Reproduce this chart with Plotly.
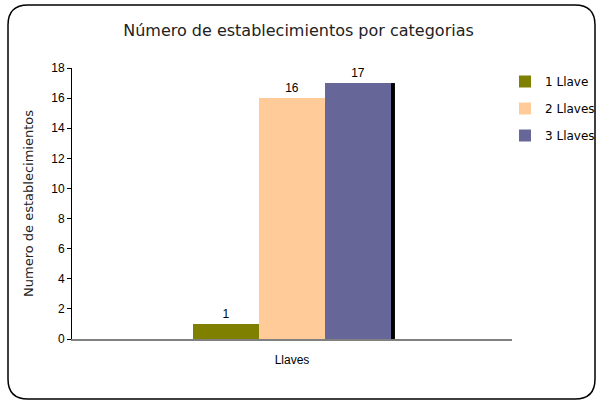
import plotly.graph_objects as go

# --------------------------
# Data
# --------------------------
categoria = ["Llaves"]
series = ["1 Llave", "2 Llaves", "3 Llaves"]
valores = [1, 16, 17]
colores = ["#808000", "#FFCC99", "#666699"]

# bar layout inside the single category (group of three, 55% gap)
ancho = 0.15
inicio = -1.5 * ancho

fig = go.Figure()
for i, (nombre, val, col) in enumerate(zip(series, valores, colores)):
    fig.add_trace(go.Bar(
        name=nombre, x=categoria, y=[val],
        width=ancho, offset=inicio + i * ancho,
        marker=dict(color=col, line=dict(width=0)),
        text=[str(val)], textposition="outside",
        textfont=dict(family="Liberation Sans, Arial", size=12, color="#000000"),
        cliponaxis=False, legendgroup=str(i),
    ))

# thin dark shadow on the right of the last bar
fig.add_trace(go.Bar(
    x=categoria, y=[valores[-1]], width=0.009, offset=inicio + 3 * ancho,
    marker=dict(color="#000000", line=dict(width=0)),
    showlegend=False, hoverinfo="skip",
))

# rounded frame around the chart (paper coords relative to plot area)
def px_x(p):
    return (p - 72) / 440

def px_y(p):
    return (339 - p) / 271

x0, x1, y0, y1, r = 8, 595, 5, 399, 20
path = (
    f"M {px_x(x0 + r)},{px_y(y0)} L {px_x(x1 - r)},{px_y(y0)} "
    f"Q {px_x(x1)},{px_y(y0)} {px_x(x1)},{px_y(y0 + r)} "
    f"L {px_x(x1)},{px_y(y1 - r)} Q {px_x(x1)},{px_y(y1)} {px_x(x1 - r)},{px_y(y1)} "
    f"L {px_x(x0 + r)},{px_y(y1)} Q {px_x(x0)},{px_y(y1)} {px_x(x0)},{px_y(y1 - r)} "
    f"L {px_x(x0)},{px_y(y0 + r)} Q {px_x(x0)},{px_y(y0)} {px_x(x0 + r)},{px_y(y0)} Z"
)

fig.update_layout(
    width=597, height=403,
    margin=dict(l=72, r=85, t=68, b=64, autoexpand=False),
    paper_bgcolor="white", plot_bgcolor="white",
    title=dict(text="Número de establecimientos por categorias",
               x=0.5, xanchor="center", y=0.925, yanchor="middle",
               font=dict(family="DejaVu Sans, sans-serif", size=16, color="#222222")),
    barmode="overlay",
    showlegend=True,
    legend=dict(x=px_x(505), y=px_y(67), xanchor="left", yanchor="top", itemwidth=30,
                font=dict(family="DejaVu Sans, sans-serif", size=12, color="#000000"),
                tracegroupgap=8, bgcolor="rgba(0,0,0,0)"),
    shapes=[dict(type="path", xref="paper", yref="paper", path=path,
                 line=dict(color="#000000", width=1.5), layer="below")],
    xaxis=dict(showline=True, linecolor="#808080", linewidth=1.5,
               ticks="", showgrid=False, ticklabelstandoff=9,
               tickfont=dict(family="Liberation Sans, Arial", size=12, color="#000000")),
    yaxis=dict(range=[0, 18], dtick=2, showline=True, linecolor="#000000", linewidth=1,
               ticks="outside", ticklen=4, tickcolor="#000000", showgrid=False, zeroline=False,
               tickfont=dict(family="Liberation Sans, Arial", size=12, color="#000000"),
               title=dict(text="Numero de establecimientos", standoff=14,
                          font=dict(family="DejaVu Sans, sans-serif", size=13, color="#222222"))),
)

fig.write_html("out.html", config={"displayModeBar": False},
               post_script="document.body.style.margin='0';")
